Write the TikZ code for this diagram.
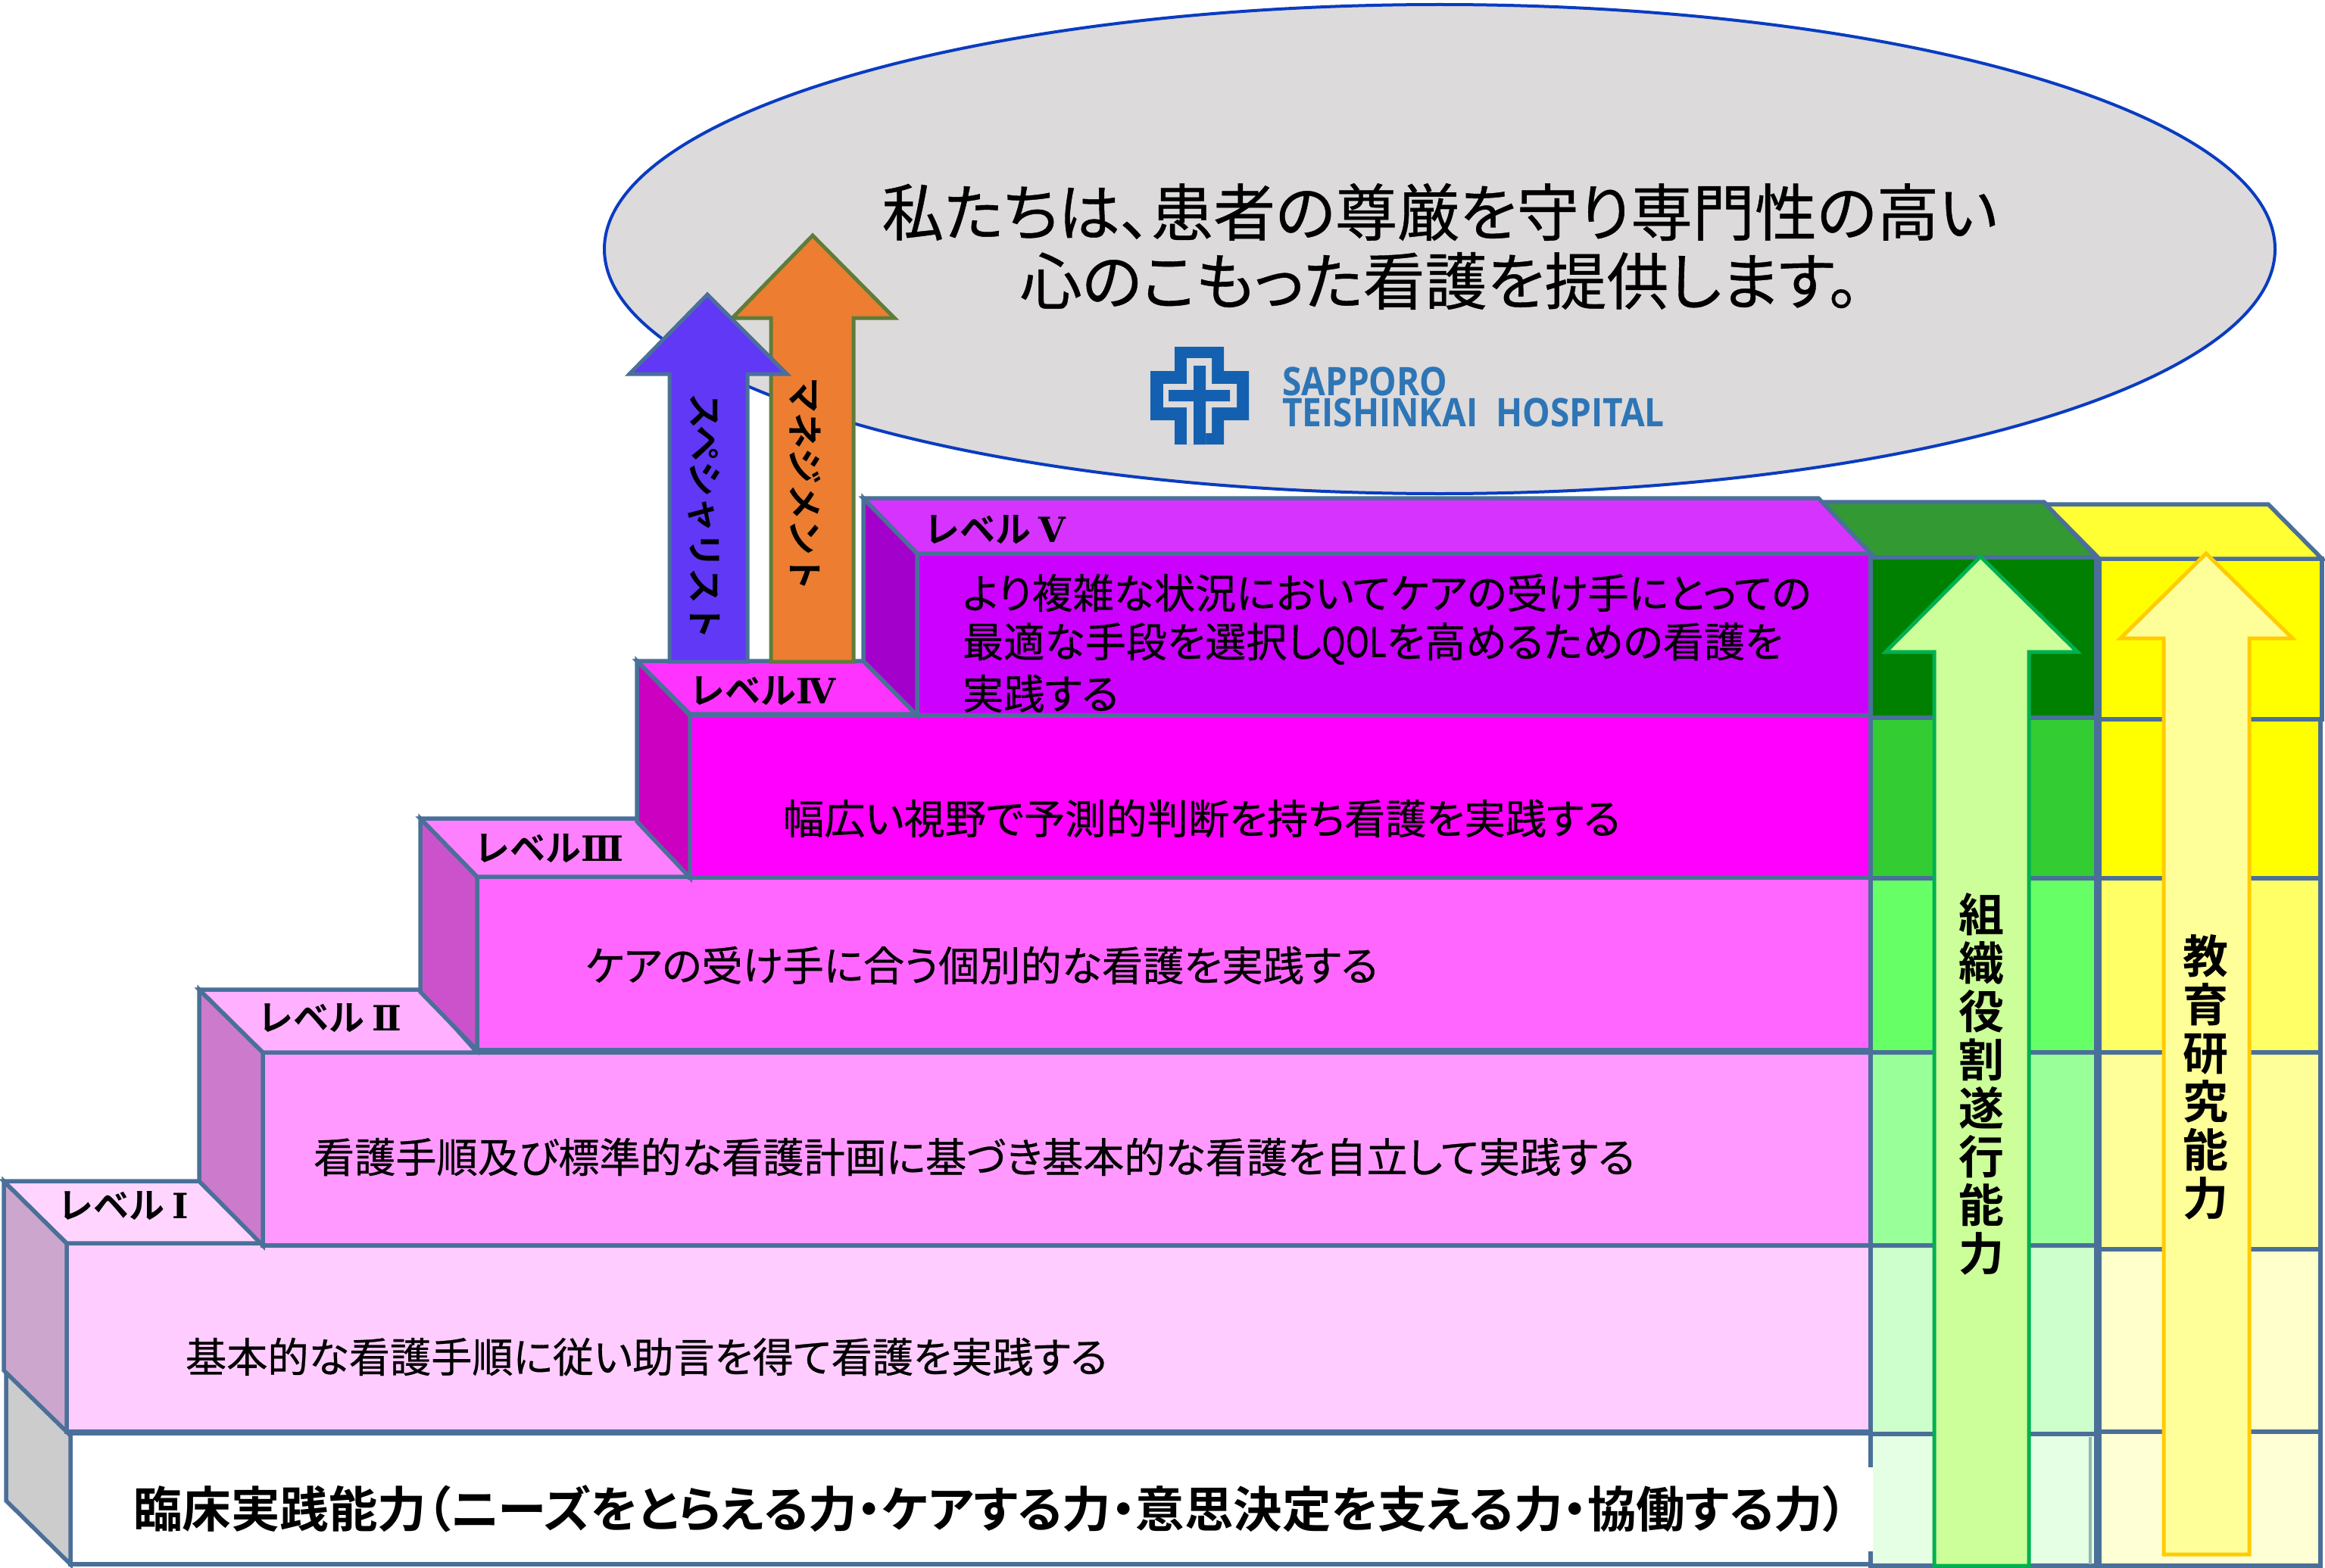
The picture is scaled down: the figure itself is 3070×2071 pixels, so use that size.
\documentclass[tikz,border=0pt]{standalone}
\usepackage{graphicx}
\usepackage{fontspec}
\setmainfont{Noto Sans CJK JP}[RawFeature={+palt},FakeBold=0.5]
\newfontfamily\jpbold{Noto Sans CJK JP Bold}[RawFeature={+palt}]
\newfontfamily\jpvert{Noto Sans CJK JP Bold}
\newfontfamily\logofont{Open Sans}[BoldFont={Open Sans Bold}]
\newfontfamily\romfont{DejaVu Serif}[BoldFont={DejaVu Serif Bold}]
\newcommand{\rom}[1]{{\romfont\bfseries\fontsize{46}{46}\selectfont #1}}
\definecolor{edgeblue}{HTML}{4A7099}
\definecolor{ellfill}{HTML}{DCDADB}
\definecolor{ellline}{HTML}{0A3CC0}
\definecolor{logoblue}{HTML}{1460B0}
\definecolor{logotext}{HTML}{2E75B6}
\definecolor{baseside}{HTML}{CCCCCC}
\definecolor{Itop}{HTML}{FFD5FF}\definecolor{Iside}{HTML}{CCA6CC}\definecolor{Ifront}{HTML}{FFCCFF}
\definecolor{IItop}{HTML}{FFB0FF}\definecolor{IIside}{HTML}{CC7ACC}\definecolor{IIfront}{HTML}{FF99FF}
\definecolor{IIItop}{HTML}{FF80FF}\definecolor{IIIside}{HTML}{CC52CC}\definecolor{IIIfront}{HTML}{FF66FF}
\definecolor{IVtop}{HTML}{FF33FF}\definecolor{IVside}{HTML}{CC00C0}\definecolor{IVfront}{HTML}{FF00FF}
\definecolor{Vtop}{HTML}{D633FF}\definecolor{Vside}{HTML}{A300CC}\definecolor{Vfront}{HTML}{CC00FF}
\definecolor{gA}{HTML}{008000}\definecolor{gAtop}{HTML}{339933}\definecolor{gB}{HTML}{33CC33}
\definecolor{gC}{HTML}{66FF66}\definecolor{gD}{HTML}{99FF99}\definecolor{gE}{HTML}{CCFFCC}\definecolor{gF}{HTML}{E5FFE5}
\definecolor{yA}{HTML}{FFFF00}\definecolor{yAtop}{HTML}{FFFF33}\definecolor{yC}{HTML}{FFFF66}
\definecolor{yD}{HTML}{FFFF99}\definecolor{yE}{HTML}{FFFFCC}\definecolor{yF}{HTML}{FFFFD5}
\definecolor{arrgreenfill}{HTML}{CCFF99}\definecolor{arrgreenline}{HTML}{00B050}
\definecolor{arryellowfill}{HTML}{FFFF99}\definecolor{arryellowline}{HTML}{FFCC00}
\definecolor{arrblue}{HTML}{6038F5}\definecolor{arrorange}{HTML}{ED7D31}\definecolor{arrorangeline}{HTML}{5E7D3A}
\definecolor{thinteal}{HTML}{8FB8B0}
\newcommand{\fs}[1]{\fontsize{#1}{#1}\selectfont}
\tikzset{
  block/.style={draw=edgeblue,line width=5.5pt,line join=miter},
  lbl/.style={inner sep=0pt,outer sep=0pt,anchor=west,text=black},
  levellbl/.style={lbl,font=\jpvert\fs{47}},
  body/.style={lbl,font=\fs{54.2}},
  uparrow/.style={line width=5pt,line join=miter},
}
\begin{document}
\begin{tikzpicture}[x=1pt,y=-1pt]
\useasboundingbox (0,0) rectangle (3070,2071);
\fill[white] (0,0) rectangle (3070,2071);
% ellipse
\draw[fill=ellfill,draw=ellline,line width=4pt] (1901,329) ellipse [x radius=1103,y radius=323];
\node[lbl,anchor=center,font=\fs{82}] (title1) at (1901,280) {私たちは、患者の尊厳を守り専門性の高い};
\node[lbl,anchor=center,font=\fs{82}] (title2) at (1901,371) {心のこもった看護を提供します。};
% logo
\fill[logoblue] (1551,458) -- (1616,458) -- (1616,490) -- (1649,490) -- (1649,555) -- (1616,555) -- (1616,587) -- (1551,587) -- (1551,555) -- (1519,555) -- (1519,490) -- (1551,490) -- cycle;
\fill[ellfill] (1567,473) -- (1600,473) -- (1600,507) -- (1633,507) -- (1633,538) -- (1600,538) -- (1600,572) -- (1592,572) -- (1592,587) -- (1567,587) -- (1567,538) -- (1536,538) -- (1536,507) -- (1567,507) -- cycle;
\fill[logoblue] (1576,483) -- (1592,483) -- (1592,515) -- (1624,515) -- (1624,530) -- (1592,530) -- (1592,587) -- (1576,587) -- (1576,530) -- (1543,530) -- (1543,515) -- (1576,515) -- cycle;
\node[lbl,text=logotext,font=\logofont\bfseries\fs{52}] (logo1) at (1693,504) {\scalebox{0.885}[1]{SAPPORO}};
\node[lbl,text=logotext,font=\logofont\bfseries\fs{52}] (logo2) at (1693,545) {\scalebox{0.885}[1]{TEISHINKAI\ \ HOSPITAL}};
% base block
\draw[block,fill=white] (93,1893) rectangle (2470,2066);
\draw[block,fill=baseside] (8,1810) -- (93,1893) -- (93,2066) -- (8,1982) -- cycle;
% green column
\draw[block,fill=gF] (2470,1894) rectangle (2768,2068);
\draw[draw=thinteal,line width=4pt] (2760,1898) -- (2760,2066);
\draw[block,fill=gE] (2470,1645) rectangle (2768,1894);
\draw[block,fill=gD] (2470,1390) rectangle (2768,1645);
\draw[block,fill=gC] (2470,1160) rectangle (2768,1390);
\draw[block,fill=gB] (2470,948) rectangle (2768,1160);
\draw[block,fill=gA] (2470,736) rectangle (2768,948);
\draw[block,fill=gAtop] (2406,663) -- (2699,663) -- (2768,736) -- (2470,736) -- cycle;
% yellow column
\draw[block,fill=yF] (2772,1891) rectangle (3064,2068);
\draw[block,fill=yE] (2772,1650) rectangle (3064,1891);
\draw[block,fill=yD] (2772,1390) rectangle (3064,1650);
\draw[block,fill=yC] (2772,1160) rectangle (3064,1390);
\draw[block,fill=yA] (2772,950) rectangle (3064,1160);
\draw[block,fill=yA] (2772,738) rectangle (3066,950);
\draw[block,fill=yAtop] (2701,666) -- (2995,666) -- (3066,738) -- (2772,738) -- cycle;
% level I
\draw[block,fill=Ifront] (88,1642) rectangle (2470,1891);
\draw[block,fill=Iside] (5,1560) -- (88,1642) -- (88,1891) -- (5,1810) -- cycle;
\draw[block,fill=Itop] (5,1560) -- (263,1560) -- (346,1642) -- (88,1642) -- cycle;
% level II
\draw[block,fill=IIfront] (347,1390) rectangle (2470,1645);
\draw[block,fill=IIside] (263,1307) -- (347,1390) -- (347,1645) -- (263,1560) -- cycle;
\draw[block,fill=IItop] (263,1307) -- (556,1307) -- (630,1390) -- (347,1390) -- cycle;
% level III
\draw[block,fill=IIIfront] (630,1158) rectangle (2470,1387);
\draw[block,fill=IIIside] (555,1081) -- (630,1158) -- (630,1387) -- (555,1310) -- cycle;
\draw[block,fill=IIItop] (555,1081) -- (841,1081) -- (912,1158) -- (630,1158) -- cycle;
% level IV
\draw[block,fill=IVfront] (911,945) rectangle (2470,1159);
\draw[block,fill=IVside] (841,873) -- (911,945) -- (911,1159) -- (841,1085) -- cycle;
\draw[block,fill=IVtop] (841,873) -- (1140,873) -- (1211,943) -- (911,943) -- cycle;
% level V
\draw[block,fill=Vfront] (1211,731) rectangle (2470,945);
\draw[block,fill=Vside] (1140,658) -- (1211,731) -- (1211,945) -- (1140,873) -- cycle;
\draw[block,fill=Vtop] (1140,658) -- (2401,658) -- (2470,731) -- (1211,731) -- cycle;
% white gap at the right of base text
\fill[white] (2462,1938) rectangle (2473,2049);
% vertical arrows
\draw[uparrow,fill=arrorange,draw=arrorangeline] (1073,311) -- (1181,420) -- (1127,420) -- (1127,874) -- (1018,874) -- (1018,420) -- (967,420) -- cycle;
\draw[uparrow,fill=arrblue,draw=edgeblue] (934,389) -- (1039,494) -- (987,494) -- (987,874) -- (884,874) -- (884,494) -- (831,494) -- cycle;
\draw[uparrow,fill=arrgreenfill,draw=arrgreenline] (2615,735) -- (2743,861) -- (2679,861) -- (2679,2068) -- (2554,2068) -- (2554,861) -- (2490,861) -- cycle;
\draw[uparrow,fill=arryellowfill,draw=arryellowline] (2913,731) -- (3027,843) -- (2970,843) -- (2970,2053) -- (2857,2053) -- (2857,843) -- (2800,843) -- cycle;
% texts
\node[lbl,anchor=center,rotate=-90,font=\jpvert\fs{47}] (spec) at (930,682) {スペシャリスト};
\node[lbl,anchor=center,rotate=-90,font=\jpvert\fs{47}] (mgmt) at (1063,639) {マネジメント};
\node[levellbl] (lvV) at (1220,700) {レベル \rom{Ⅴ}};
\node[levellbl] (lvIV) at (910,913) {レベル\rom{Ⅳ}};
\node[levellbl] (lvIII) at (626,1121) {レベル\rom{Ⅲ}};
\node[levellbl] (lvII) at (340,1345) {レベル \rom{Ⅱ}};
\node[levellbl] (lvI) at (76,1593) {レベル \rom{Ⅰ}};
\node[body] (tV1) at (1271,783) {より複雑な状況においてケアの受け手にとっての};
\node[body] (tV2) at (1271,850) {最適な手段を選択し\scalebox{0.78}[1]{QOL}を高めるための看護を};
\node[body] (tV3) at (1271,916) {実践する};
\node[body] (tIV) at (1034,1081) {幅広い視野で予測的判断を持ち看護を実践する};
\node[body] (tIII) at (773,1275) {ケアの受け手に合う個別的な看護を実践する};
\node[body] (tII) at (414,1528) {看護手順及び標準的な看護計画に基づき基本的な看護を自立して実践する};
\node[body] (tI) at (245,1792) {基本的な看護手順に従い助言を得て看護を実践する};
\node[lbl,font=\jpbold\fs{64.5}] (tbase) at (176,1993) {臨床実践能力（ニーズをとらえる力・ケアする力・意思決定を支える力・協働する力）};
\node[lbl,anchor=center,align=center,font=\jpvert\fs{60}] (vg) at (2616,1432) {組\\[4pt]織\\[4pt]役\\[4pt]割\\[4pt]遂\\[4pt]行\\[4pt]能\\[4pt]力};
\node[lbl,anchor=center,align=center,font=\jpvert\fs{60}] (vy) at (2912,1423) {教\\[4pt]育\\[4pt]研\\[4pt]究\\[4pt]能\\[4pt]力};
\end{tikzpicture}
\end{document}
